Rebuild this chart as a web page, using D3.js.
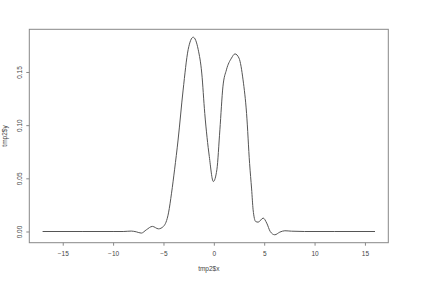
<!DOCTYPE html>
<html>
<head>
<meta charset="utf-8">
<script src="https://cdn.jsdelivr.net/npm/d3@7"></script>
<style>
  body { margin: 0; background: #fff; }
  text { font-family: "Liberation Sans", Arial, sans-serif; fill: #444; }
</style>
</head>
<body>
<script>
const w = 421
const h = 298
const margin = {top: 29.3, right: 32.7, bottom: 55.3, left: 29.3}

// density curve
const xs = [-17, -13, -10, -9, -8.2, -7.7, -7.2, -6.7, -6.1, -5.5, -5, -4.5, -4.2, -3.9,
    -3.55, -3.05, -2.55, -2.05, -1.55, -1.2, -0.9, -0.45, -0.05, 0.3, 0.6, 0.9, 1.25,
    1.75, 2.1, 2.5, 2.9, 3.25, 3.55, 3.75, 3.9, 4.15, 4.4, 4.9, 5.25, 5.6, 6.05, 6.55,
    7.05, 7.7, 9, 12, 16]
const ys = [0, 0, 0, 0, 0.0004, -0.0003, -0.0015, 0.0016, 0.0048, 0.0025, 0.0048, 0.0175,
    0.036, 0.058, 0.086, 0.133, 0.171, 0.1827, 0.171, 0.149, 0.111, 0.0705, 0.047, 0.058,
    0.0956, 0.136, 0.152, 0.163, 0.167, 0.163, 0.1426, 0.111, 0.064, 0.04, 0.0204, 0.0094,
    0.0088, 0.0126, 0.0079, 0.0, -0.0031, -0.0006, 0.0007, 0.0003, 0, 0, 0]

const xTicks = [-15, -10, -5, 0, 5, 10, 15]
const yTicks = [0, 0.05, 0.10, 0.15]
const xLabel = 'tmp2$x'
const yLabel = 'tmp2$y'

const points = xs.map(function (d, i) { return {x: d, y: ys[i]} })

// R style 4% padding on both axes
function padded (ext) {
    const p = (ext[1] - ext[0]) * 0.04
    return [ext[0] - p, ext[1] + p]
}

const xScale = d3.scaleLinear()
    .domain(padded(d3.extent(xs)))
    .range([margin.left, w - margin.right])

const yScale = d3.scaleLinear()
    .domain(padded(d3.extent(ys)))
    .range([h - margin.bottom, margin.top])

const svg = d3.select('body')
    .append('svg')
    .attr('width', w)
    .attr('height', h)

// box
svg.append('rect')
    .attr('x', margin.left)
    .attr('y', margin.top)
    .attr('width', w - margin.left - margin.right)
    .attr('height', h - margin.top - margin.bottom)
    .attr('fill', 'none')
    .attr('stroke', '#888')
    .attr('stroke-width', 1)

const xAxis = svg.append('g')
    .attr('transform', `translate(0,${h - margin.bottom})`)
    .call(d3.axisBottom(xScale).tickValues(xTicks).tickSize(3).tickSizeOuter(0))
xAxis.select('.domain').remove()
xAxis.selectAll('line').attr('stroke', '#888')
xAxis.selectAll('text')
    .attr('y', 9)
    .attr('dy', '0.71em')
    .style('font-size', '6.5px')
    .style('font-family', '"Liberation Sans", Arial, sans-serif')
    .attr('fill', '#444')
    .text(function (d) { return d < 0 ? '\u2212' + Math.abs(d) : d })

const yAxis = svg.append('g')
    .attr('transform', `translate(${margin.left},0)`)
    .call(d3.axisLeft(yScale).tickValues(yTicks).tickSize(3).tickSizeOuter(0).tickFormat(d3.format('.2f')))
yAxis.select('.domain').remove()
yAxis.selectAll('line').attr('stroke', '#888')
yAxis.selectAll('text')
    .attr('transform', 'rotate(-90)')
    .attr('x', 0)
    .attr('y', -7.7)
    .attr('dy', 0)
    .attr('text-anchor', 'middle')
    .style('font-size', '6.5px')
    .style('font-family', '"Liberation Sans", Arial, sans-serif')
    .attr('fill', '#444')

svg.append('text')
    .attr('x', (margin.left + w - margin.right) / 2)
    .attr('y', 270.6)
    .attr('text-anchor', 'middle')
    .style('font-size', '6.5px')
    .text(xLabel)

svg.append('text')
    .attr('transform', `translate(7,${(margin.top + h - margin.bottom) / 2}) rotate(-90)`)
    .attr('text-anchor', 'middle')
    .style('font-size', '6.5px')
    .text(yLabel)

const lineFun = d3.line()
    .x(function (d) { return xScale(d.x) })
    .y(function (d) { return yScale(d.y) })
    .curve(d3.curveMonotoneX)

svg.append('path')
    .attr('d', lineFun(points))
    .attr('fill', 'none')
    .attr('stroke', '#555')
    .attr('stroke-width', 1)
</script>
</body>
</html>
